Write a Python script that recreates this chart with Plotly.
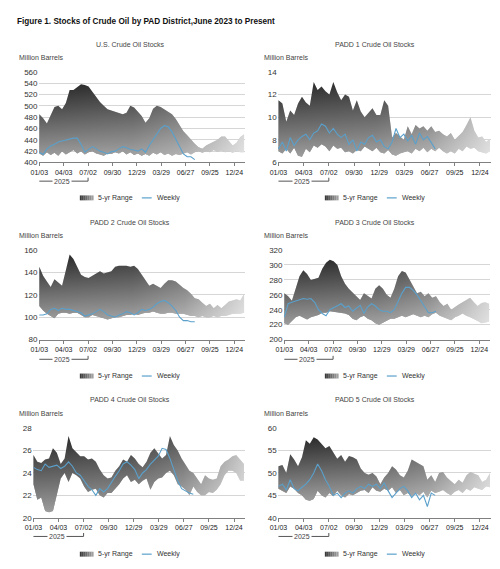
import plotly.graph_objects as go

# ---------------- data ----------------
# x values: days elapsed since 01/03/2025 (bi-weekly samples of the weekly series)
range_days = [14 * i for i in range(55)]

tick_days = [0, 90, 180, 270, 360, 450, 540, 630, 720]
tick_text = ["01/03", "04/03", "07/02", "09/30", "12/29", "03/29", "06/27", "09/25", "12/24"]

us_upper = [485, 478, 469, 485, 498, 500, 494, 505, 528, 528, 533, 538, 537, 534, 525, 515, 507, 500, 494, 492,
            490, 488, 485, 488, 500, 497, 490, 482, 470, 478, 495, 500, 498, 494, 490, 485, 477, 466, 455, 448,
            440, 433, 427, 424, 430, 433, 437, 440, 446, 446, 438, 430, 435, 445, 450]
us_lower = [416, 412, 418, 413, 417, 412, 420, 414, 418, 422, 416, 420, 414, 418, 420, 416, 414, 412, 416, 415,
            418, 416, 420, 414, 418, 413, 416, 412, 415, 412, 417, 414, 418, 413, 416, 412, 415, 413, 416, 418,
            414, 418, 420, 417, 420, 418, 422, 419, 421, 418, 420, 417, 420, 418, 418]
us_weekly = [418, 414, 424, 429, 432, 436, 438, 440, 442, 443, 443, 432, 418, 423, 428, 424, 420, 418, 415, 419,
             420, 424, 428, 426, 423, 422, 420, 424, 418, 430, 440, 450, 460, 465, 463, 454, 442, 428, 415, 410,
             410, 405]

p1_upper = [11.5, 11.2, 9.6, 10.6, 10.2, 11.2, 11.8, 11.3, 11.0, 13.1, 12.4, 12.7, 12.3, 12.0, 13.1, 12.2, 11.5, 12.0, 11.8, 10.6,
            11.5, 10.5, 10.0, 10.4, 10.8, 10.2, 10.2, 11.5, 11.0, 8.2, 8.6, 8.3, 8.0, 9.2, 8.5, 9.3, 9.0, 9.2, 8.8, 9.2,
            8.7, 8.8, 8.5, 8.3, 8.6, 8.0, 8.4, 8.7, 9.3, 10.0, 8.8, 8.2, 8.3, 7.8, 8.1]
p1_lower = [7.0, 6.8, 7.2, 6.8, 7.3, 6.6, 6.5, 7.2, 6.9, 7.5, 7.3, 7.6, 7.4, 7.0, 7.5, 7.2, 7.3, 6.9, 7.0, 6.8,
            7.1, 7.0, 7.4, 7.2, 7.0, 7.3, 6.9, 6.8, 7.1, 6.7, 6.6, 6.8, 6.9, 7.0, 6.8, 7.2, 7.0, 7.3, 6.9, 7.2,
            7.0, 7.3, 7.0, 6.8, 7.0, 6.8, 7.2, 7.0, 7.4, 7.2, 7.3, 7.0, 6.9, 6.8, 7.0]
p1_weekly = [7.2, 7.8, 7.0, 8.2, 7.5, 8.0, 8.3, 8.5, 8.0, 8.6, 8.8, 9.4, 9.2, 8.6, 9.0, 8.5, 8.2, 8.5, 7.6, 8.0,
             7.0, 7.8, 7.6, 8.2, 8.4, 7.8, 8.0, 7.4, 7.2, 7.8, 9.0, 8.2, 8.5, 7.9, 8.4, 7.6, 8.6, 8.0, 8.3, 7.8,
             7.2]

p2_upper = [145, 137, 132, 127, 134, 131, 128, 142, 156, 152, 145, 138, 136, 135, 137, 139, 141, 139, 140, 141,
            145, 146, 146, 146, 145, 146, 143, 138, 133, 128, 130, 128, 126, 130, 133, 133, 132, 129, 126, 124,
            121, 117, 116, 113, 110, 112, 108, 111, 108, 111, 114, 115, 116, 115, 121]
p2_lower = [110, 106, 103, 101, 99, 103, 104, 104, 103, 104, 104, 102, 100, 100, 102, 101, 100, 99, 98, 99,
            100, 100, 101, 102, 102, 103, 102, 103, 104, 104, 105, 104, 103, 103, 104, 104, 103, 103, 103, 102,
            101, 101, 100, 101, 100, 100, 101, 100, 101, 101, 102, 103, 103, 103, 104]
p2_weekly = [102, 102, 103, 107, 108, 106, 108, 107, 107, 106, 105, 104, 101, 102, 103, 105, 107, 105, 102, 101,
             100, 102, 103, 105, 104, 102, 104, 107, 106, 107, 109, 112, 114, 115, 113, 110, 106, 100, 97, 97,
             96, 96]

p3_upper = [262, 258, 252, 268, 285, 293, 288, 280, 282, 283, 295, 303, 307, 305, 300, 285, 275, 268, 263, 258,
            253, 262, 258, 255, 268, 273, 268, 260, 256, 268, 285, 292, 290, 280, 270, 262, 264, 258, 262, 256,
            258, 250, 245, 248, 240, 244, 247, 250, 253, 256, 250, 245, 249, 250, 248]
p3_lower = [222, 220, 225, 230, 232, 230, 227, 230, 232, 233, 236, 236, 238, 238, 237, 236, 235, 233, 228, 226,
            230, 232, 228, 226, 222, 220, 222, 225, 228, 228, 230, 232, 230, 232, 234, 232, 230, 232, 230, 234,
            236, 232, 230, 228, 226, 230, 232, 235, 232, 230, 228, 225, 222, 223, 224]
p3_weekly = [230, 248, 250, 252, 253, 255, 254, 255, 250, 240, 235, 232, 240, 243, 245, 248, 243, 245, 238, 242,
             246, 235, 244, 248, 245, 240, 238, 238, 236, 240, 252, 262, 270, 270, 266, 260, 252, 243, 236, 236,
             238]

p4_upper = [25.6, 25.0, 24.9, 25.2, 25.3, 26.2, 25.8, 24.8, 25.3, 27.3, 26.2, 25.8, 25.5, 25.5, 25.2, 25.3, 25.0, 24.3, 23.8, 23.5,
            23.6, 24.2, 24.6, 25.2, 25.0, 25.6, 25.3, 24.8, 24.5, 25.0, 25.8, 26.2, 25.8, 25.3, 25.6, 27.3, 26.5, 26.0, 25.3, 24.8,
            24.2, 24.0, 23.5, 23.0, 23.8, 23.5, 23.4, 23.5, 24.6, 25.0, 25.2, 25.5, 25.6, 25.2, 24.8]
p4_lower = [23.0, 21.6, 21.8, 20.6, 20.5, 20.6, 22.0, 23.5, 24.0, 23.2, 24.0, 23.8, 23.5, 22.8, 22.3, 22.5, 22.6, 22.0, 21.8, 22.2,
            22.2, 22.6, 23.0, 23.5, 23.8, 23.2, 23.4, 23.0, 23.3, 23.5, 22.5, 23.2, 23.5, 23.6, 24.0, 24.2, 23.8, 23.0, 22.8, 22.5,
            22.0, 22.8, 22.3, 22.0, 22.0, 22.3, 22.2, 22.5, 23.0, 23.8, 24.2, 24.2, 24.0, 23.3, 23.3]
p4_weekly = [24.5, 24.3, 24.2, 24.8, 24.5, 24.6, 24.7, 24.4, 24.6, 25.0, 24.6, 24.0, 23.8, 23.3, 22.8, 22.5, 22.0, 22.6, 22.3, 22.6,
             23.2, 23.7, 24.2, 24.8, 25.0, 24.7, 24.3, 23.5, 24.0, 24.3, 24.8, 25.2, 25.5, 26.2, 26.1, 25.3, 24.2, 23.3, 22.6, 22.4,
             22.2, 22.1]

p5_upper = [51.5, 51.8, 50.0, 54.2, 53.0, 51.5, 53.5, 57.3, 56.5, 58.0, 57.5, 56.5, 55.5, 56.0, 54.5, 53.2, 54.0, 52.5, 53.8, 53.5,
            53.0, 51.0, 50.0, 49.6, 50.0, 49.2, 47.5, 49.0, 50.0, 51.5, 50.8, 49.5, 49.0, 50.5, 53.0, 52.5, 52.0, 51.5, 48.5, 49.5,
            48.0, 50.0, 50.2, 49.0, 48.2, 47.5, 48.5, 47.8, 49.5, 50.2, 49.8, 49.5, 48.0, 48.5, 50.0]
p5_lower = [46.5, 46.0, 45.5, 47.0, 46.5, 45.5, 45.0, 44.0, 43.8, 44.2, 46.0, 45.0, 44.5, 45.5, 44.8, 46.0, 45.0, 44.5, 45.3, 45.0,
            45.5, 46.0, 46.2, 45.5, 46.8, 46.0, 45.8, 46.5, 46.0, 46.8, 45.5, 46.2, 45.0, 45.5, 44.8, 45.5, 45.0, 45.8, 44.5, 46.0,
            45.5, 45.8, 46.2, 45.5, 45.0, 45.8, 46.2, 45.5, 46.5, 46.0, 46.8, 46.5, 46.2, 47.0, 46.8]
p5_weekly = [47.0, 47.5, 46.2, 48.5, 46.5, 46.0, 46.8, 47.5, 48.5, 50.0, 52.0, 50.5, 48.5, 47.0, 45.0, 45.5, 44.5, 45.5, 46.0, 45.5,
             46.5, 47.0, 46.5, 47.5, 47.0, 47.5, 46.5, 47.8, 46.0, 44.5, 45.5, 46.5, 47.0, 46.0, 44.5, 45.5, 44.0, 45.0, 42.5, 45.5,
             45.0]

titles = ["U.S. Crude Oil Stocks", "PADD 1 Crude Oil Stocks", "PADD 2 Crude Oil Stocks",
          "PADD 3 Crude Oil Stocks", "PADD 4 Crude Oil Stocks", "PADD 5 Crude Oil Stocks"]
uppers = [us_upper, p1_upper, p2_upper, p3_upper, p4_upper, p5_upper]
lowers = [us_lower, p1_lower, p2_lower, p3_lower, p4_lower, p5_lower]
weeklies = [us_weekly, p1_weekly, p2_weekly, p3_weekly, p4_weekly, p5_weekly]
y_ranges = [[400, 560], [6, 14], [80, 160], [200, 320], [20, 28], [40, 60]]
y_dticks = [20, 2, 20, 20, 2, 5]
bracket_label = "2025"
bracket_days = [0, 180]

# ---------------- layout geometry (pixels) ----------------
W, H = 500, 569
def px(x): return x / W
def py(y): return 1 - y / H

plot_left = [31, 274, 31, 280, 25, 274]
plot_right = [241, 491, 241, 490, 241, 491]
row_top = [69, 250, 431]
row_bot = [161, 341, 522]
title_y = [41, 222, 402]
unit_y = [54, 235, 416]
bracket_y = [180, 361, 541]
legend_y = [197, 378, 559]
col_off = [0, 249]
title_cx = [124, 373]

FONT = "Liberation Sans, Arial, sans-serif"
BLUE = "#5aa0cb"
GRAD_H = [[0, "#262626"], [0.45, "#363636"], [0.7, "#5a5a5a"], [1, "#c6c6c6"]]
GRAD_V = [[0, "rgba(255,255,255,0.55)"], [1, "rgba(255,255,255,0)"]]
legend_box_colors = ["#3a3a3a", "#4b4b4b", "#5c5c5c", "#6d6d6d", "#7e7e7e", "#8f8f8f", "#a0a0a0"]

fig = go.Figure()
annotations = []
shapes = []
layout = {}

for i in range(6):
    n = "" if i == 0 else str(i + 1)
    row, col = i // 2, i % 2
    xs = range_days
    poly_x = xs + xs[::-1]
    poly_y = uppers[i] + lowers[i][::-1]
    # 5-yr range: horizontal dark-to-light gradient, plus a lightening toward the bottom
    fig.add_trace(go.Scatter(x=poly_x, y=poly_y, fill="toself", mode="lines",
                             line=dict(width=0, color="rgba(0,0,0,0)"),
                             fillgradient=dict(type="horizontal", colorscale=GRAD_H,
                                               start=xs[0], stop=xs[-1]),
                             hoverinfo="skip", showlegend=False,
                             xaxis="x" + n, yaxis="y" + n))
    fig.add_trace(go.Scatter(x=poly_x, y=poly_y, fill="toself", mode="lines",
                             line=dict(width=0, color="rgba(0,0,0,0)"),
                             fillgradient=dict(type="vertical", colorscale=GRAD_V,
                                               start=min(lowers[i]), stop=max(uppers[i])),
                             hoverinfo="skip", showlegend=False,
                             xaxis="x" + n, yaxis="y" + n))
    fig.add_trace(go.Scatter(x=range_days[:len(weeklies[i])], y=weeklies[i], mode="lines",
                             line=dict(width=1.1, color=BLUE), showlegend=False,
                             hoverinfo="skip", xaxis="x" + n, yaxis="y" + n))

    layout["xaxis" + n] = dict(
        domain=[px(plot_left[i]), px(plot_right[i])], anchor="y" + n,
        range=[-3, 760], tickvals=tick_days, ticktext=tick_text,
        tickfont=dict(size=7, color="#222222", family=FONT), showline=True,
        linecolor="#808080", linewidth=1, ticks="outside", ticklen=3, tickcolor="#808080",
        showgrid=False, zeroline=False, fixedrange=True)
    layout["yaxis" + n] = dict(
        domain=[py(row_bot[row]), py(row_top[row])], anchor="x" + n,
        range=y_ranges[i], dtick=y_dticks[i], tick0=y_ranges[i][0],
        tickfont=dict(size=8, color="#333333", family=FONT), showgrid=True,
        gridcolor="#d6d6d6", gridwidth=1, zeroline=False, showline=False, ticks="",
        fixedrange=True)

    off = col_off[col]
    annotations.append(dict(text=titles[i], x=px(title_cx[col]), y=py(title_y[row]), xref="paper", yref="paper",
                            xanchor="center", yanchor="middle", showarrow=False,
                            font=dict(size=7, color="#444444", family=FONT)))
    annotations.append(dict(text="Million Barrels", x=px(9 + off), y=py(unit_y[row]), xref="paper", yref="paper",
                            xanchor="left", yanchor="middle", showarrow=False,
                            font=dict(size=7, color="#444444", family=FONT)))
    by = py(bracket_y[row])
    shapes.append(dict(type="line", xref="x" + n, yref="paper", x0=bracket_days[0], x1=bracket_days[1],
                       y0=by, y1=by, line=dict(color="#555555", width=1)))
    shapes.append(dict(type="line", xref="x" + n, yref="paper", x0=bracket_days[1], x1=bracket_days[1],
                       y0=by, y1=py(bracket_y[row] - 3.5), line=dict(color="#555555", width=1)))
    annotations.append(dict(text=bracket_label, x=84, y=by, xref="x" + n, yref="paper",
                            xanchor="center", yanchor="middle", showarrow=False, bgcolor="white",
                            borderpad=1, font=dict(size=7, color="#444444", family=FONT)))
    ly = legend_y[row]
    bx0 = 73 + off
    for j, c in enumerate(legend_box_colors):
        shapes.append(dict(type="rect", xref="paper", yref="paper",
                           x0=px(bx0 + 2 * j), x1=px(bx0 + 2 * j + 2), y0=py(ly + 2.5), y1=py(ly - 2.5),
                           fillcolor=c, line=dict(width=0)))
    annotations.append(dict(text="5-yr Range", x=px(89 + off), y=py(ly), xref="paper", yref="paper",
                            xanchor="left", yanchor="middle", showarrow=False,
                            font=dict(size=7, color="#333333", family=FONT)))
    shapes.append(dict(type="line", xref="paper", yref="paper", x0=px(136 + off), x1=px(146 + off),
                       y0=py(ly), y1=py(ly), line=dict(color=BLUE, width=1.2)))
    annotations.append(dict(text="Weekly", x=px(149 + off), y=py(ly), xref="paper", yref="paper",
                            xanchor="left", yanchor="middle", showarrow=False,
                            font=dict(size=7, color="#333333", family=FONT)))

annotations.append(dict(text="<b>Figure 1. Stocks of Crude Oil by PAD District,June 2023 to Present</b>",
                        x=px(7), y=py(18), xref="paper", yref="paper", xanchor="left", yanchor="middle",
                        showarrow=False, font=dict(size=8.2, color="#111111", family=FONT)))

fig.update_layout(width=W, height=H, margin=dict(l=0, r=0, t=0, b=0),
                  paper_bgcolor="white", plot_bgcolor="white",
                  annotations=annotations, shapes=shapes, showlegend=False,
                  font=dict(family=FONT), **layout)

fig.write_html("out.html", config={"displayModeBar": False},
               post_script="document.body.style.margin='0';document.body.style.overflow='hidden';")
